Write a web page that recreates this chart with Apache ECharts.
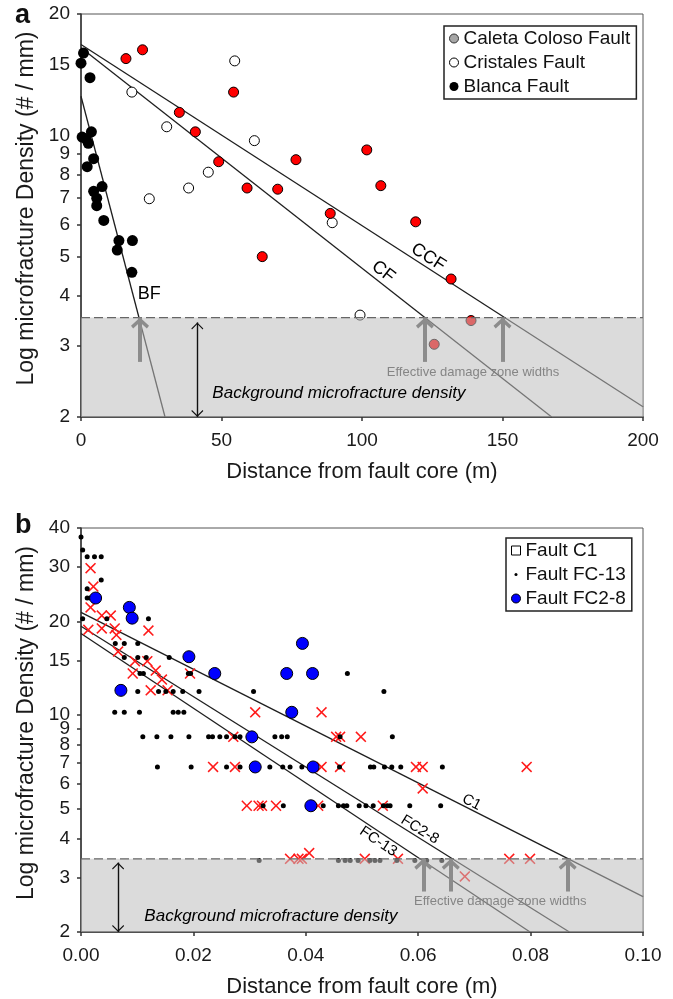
<!DOCTYPE html>
<html>
<head>
<meta charset="utf-8">
<script src="https://cdn.jsdelivr.net/npm/echarts@6/dist/echarts.min.js"></script>
<style>
  html, body { margin: 0; padding: 0; background: #fff; }
  #main { width: 673px; height: 999px; }
</style>
</head>
<body>
<div id="main"></div>
<script>
// ---- panel a: Caleta Coloso / Cristales / Blanca faults (distance in m) ----
const ccfX = [16.0, 21.9, 35.0, 40.7, 54.3, 49.0, 59.1, 70.0, 76.5, 88.7, 101.7, 106.7, 119.1, 64.5, 131.7, 138.8, 125.7];
const ccfY = [15.5, 16.3, 11.4, 10.2, 12.8, 8.6, 7.4, 7.35, 8.7, 6.4, 9.2, 7.5, 6.1, 5.0, 4.4, 3.47, 3.03];
const cfX = [18.1, 30.5, 24.3, 38.3, 45.3, 54.7, 61.7, 89.4, 99.3];
const cfY = [12.8, 10.5, 6.96, 7.4, 8.1, 15.3, 9.7, 6.07, 3.58];
const bfX = [0, 0.9, 3.2, 0.4, 1.8, 2.6, 3.7, 2.2, 4.5, 4.5, 5.6, 5.6, 7.5, 8.1, 13.5, 18.3, 12.9, 18.1];
const bfY = [15.1, 16.0, 13.9, 9.9, 9.8, 9.55, 10.2, 8.36, 8.75, 7.26, 6.98, 6.69, 7.46, 6.15, 5.48, 5.48, 5.19, 4.57];
const ccfFit = [[0, 16.8], [200, 2.12]];
const cfFit = [[0, 16.5], [167.5, 2]];
const bfFit = [[0, 12.5], [29.9, 2]];
const bgA = 3.53;
const widthsA = [21, 122.4, 150];
const yTicksA = [2, 3, 4, 5, 6, 7, 8, 9, 10, 15, 20];

// ---- panel b: faults C1 / FC-13 / FC2-8 (distance in m) ----
const c1X = [0.0017, 0.0022, 0.0017, 0.0037, 0.0053, 0.0037, 0.0013, 0.0060, 0.0063, 0.0120, 0.0066, 0.0096,
  0.0092, 0.0118, 0.0133, 0.0144, 0.0194, 0.0124, 0.0154, 0.0310, 0.0428, 0.0271, 0.0454, 0.0461, 0.0498,
  0.0235, 0.0274, 0.0428, 0.0461, 0.0596, 0.0608, 0.0793, 0.0608, 0.0295, 0.0316, 0.0322, 0.0347, 0.0422,
  0.0537, 0.0372, 0.0387, 0.0393, 0.0406, 0.0505, 0.0564, 0.0762, 0.0799, 0.0683];
const c1Y = [29.7, 25.9, 22.2, 20.9, 20.9, 19.0, 18.8, 19.0, 18.1, 18.7, 16.0, 14.9,
  13.6, 14.9, 13.9, 13.0, 13.6, 12.0, 12.0, 10.2, 10.2, 8.5, 8.5, 8.5, 8.5,
  6.8, 6.8, 6.8, 6.8, 6.8, 6.8, 6.8, 5.8, 5.1, 5.1, 5.1, 5.1, 5.1,
  5.1, 3.44, 3.44, 3.44, 3.59, 3.44, 3.44, 3.44, 3.44, 3.02];
const fc13X = [0.0000, 0.0003, 0.0011, 0.0024, 0.0036, 0.0036, 0.0011, 0.0011, 0.0016,
  0.0003, 0.0046, 0.0120, 0.0061, 0.0077, 0.0101, 0.0077, 0.0101, 0.0116, 0.0157,
  0.0105, 0.0111, 0.0191, 0.0195, 0.0474,
  0.0101, 0.0138, 0.0151, 0.0164, 0.0181, 0.0210, 0.0307, 0.0539,
  0.0060, 0.0077, 0.0104, 0.0164, 0.0173, 0.0183,
  0.0110, 0.0135, 0.0160, 0.0192, 0.0227, 0.0234, 0.0247, 0.0259, 0.0274, 0.0283, 0.0345, 0.0357, 0.0367, 0.0461, 0.0554,
  0.0136, 0.0196, 0.0259, 0.0283, 0.0336, 0.0359, 0.0372, 0.0393, 0.0460, 0.0515, 0.0521, 0.0540, 0.0553, 0.0569, 0.0643,
  0.0324, 0.0360, 0.0410, 0.0431, 0.0458, 0.0467, 0.0473, 0.0495, 0.0507, 0.0520, 0.0538, 0.0545, 0.0550, 0.0585, 0.0640,
  0.0317, 0.0458, 0.0470, 0.0479, 0.0493, 0.0514, 0.0523, 0.0532, 0.0562, 0.0594, 0.0615, 0.0642];
const fc13Y = [37.4, 34.0, 32.3, 32.3, 32.3, 27.2, 25.5, 23.8, 23.8,
  20.4, 20.4, 20.4, 17.0, 17.0, 17.0, 15.3, 15.3, 15.3, 15.3,
  13.6, 13.6, 13.6, 13.6, 13.6,
  11.9, 11.9, 11.9, 11.9, 11.9, 11.9, 11.9, 11.9,
  10.2, 10.2, 10.2, 10.2, 10.2, 10.2,
  8.5, 8.5, 8.5, 8.5, 8.5, 8.5, 8.5, 8.5, 8.5, 8.5, 8.5, 8.5, 8.5, 8.5, 8.5,
  6.8, 6.8, 6.8, 6.8, 6.8, 6.8, 6.8, 6.8, 6.8, 6.8, 6.8, 6.8, 6.8, 6.8, 6.8,
  5.1, 5.1, 5.1, 5.1, 5.1, 5.1, 5.1, 5.1, 5.1, 5.1, 5.1, 5.1, 5.1, 5.1, 5.1,
  3.4, 3.4, 3.4, 3.4, 3.4, 3.4, 3.4, 3.4, 3.4, 3.4, 3.4, 3.4];
const fc28X = [0.0026, 0.0086, 0.0091, 0.0192, 0.0238, 0.0366, 0.0412, 0.0394, 0.0071, 0.0375, 0.0304, 0.0310, 0.0413, 0.0409];
const fc28Y = [23.8, 22.2, 20.5, 15.4, 13.6, 13.6, 13.6, 17.0, 12.0, 10.2, 8.5, 6.8, 6.8, 5.1];
const c1Fit = [[0, 21.4], [0.1, 2.6]];
const fc28Fit = [[0, 19.3], [0.0869, 2]];
const fc13Fit = [[0, 18.3], [0.0799, 2]];
const bgB = 3.44;
const widthsB = [0.0609, 0.0658, 0.0866];
const yTicksB = [2, 3, 4, 5, 6, 7, 8, 9, 10, 15, 20, 30, 40];

// text annotations, placed in data space
const notesA = [
  { t: 'CCF', x: 123.6, y: 4.98, rot: -33, size: 18 },
  { t: 'CF', x: 107.6, y: 4.59, rot: -38, size: 18 },
  { t: 'BF', x: 24.3, y: 4.04, size: 18 },
  { t: 'Effective damage zone widths', x: 139.5, y: 2.58, size: 13, color: '#858585' },
  { t: 'Background microfracture density', x: 91.8, y: 2.29, size: 17, italic: true }
];
const notesB = [
  { t: 'C1', x: 0.0695, y: 5.23, rot: -27, size: 15 },
  { t: 'FC2-8', x: 0.0603, y: 4.27, rot: -32, size: 15 },
  { t: 'FC-13', x: 0.0529, y: 3.91, rot: -34, size: 15 },
  { t: 'Effective damage zone widths', x: 0.0746, y: 2.51, size: 13, color: '#858585' },
  { t: 'Background microfracture density', x: 0.0338, y: 2.24, size: 17, italic: true }
];

const FONT = '"Liberation Sans", Arial, sans-serif';
const lg = Math.log10;
const pts = (xs, ys) => xs.map((x, i) => [x, lg(ys[i])]);

const xMark = 'path://M0,1L1,0L5,4L9,0L10,1L6,5L10,9L9,10L5,6L1,10L0,9L4,5Z';
const bigHead = 'path://M0,0L10,7.5L7.6,10L0,4.2L-7.6,10L-10,7.5Z';
const thinHead = 'path://M0,0L10,8.6L8.9,10L0,2.4L-8.9,10L-10,8.6Z';

function scatter(name, g, xs, ys, symbol, size, style, z) {
  return {
    name, type: 'scatter', xAxisIndex: g, yAxisIndex: g, z: z || 2,
    symbol, symbolSize: size, itemStyle: Object.assign({ opacity: 1 }, style),
    data: pts(xs, ys), silent: true
  };
}

function fitLine(g, fit) {
  return {
    type: 'line', xAxisIndex: g, yAxisIndex: g, z: 2, symbol: 'none', silent: true,
    lineStyle: { color: '#1e1e1e', width: 1.3 },
    data: fit.map(p => [p[0], lg(p[1])])
  };
}

// grey band, dashed level, effective damage zone arrows and background double arrow
function background(g, xMax, bg, widths, arrowBot, dblX) {
  return [
    {
      type: 'line', xAxisIndex: g, yAxisIndex: g, z: 5, data: [], silent: true,
      markArea: {
        z: 5, silent: true,
        itemStyle: { color: 'rgba(190,190,190,0.55)' },
        data: [[{ coord: [0, lg(2)] }, { coord: [xMax, lg(bg)] }]]
      }
    },
    {
      type: 'line', xAxisIndex: g, yAxisIndex: g, z: 6, symbol: 'none', silent: true,
      lineStyle: { color: '#666', width: 1.2, type: [9, 4] },
      data: [[0, lg(bg)], [xMax, lg(bg)]]
    },
    {
      type: 'line', xAxisIndex: g, yAxisIndex: g, z: 7, data: [], silent: true,
      markLine: {
        z: 7, silent: true, animation: false,
        symbol: ['none', bigHead], symbolSize: [18, 11], symbolOffset: [[0, 0], [0, 5.5]],
        lineStyle: { color: '#8c8c8c', width: 4, type: 'solid' },
        label: { show: false },
        data: widths.map(x => [{ coord: [x, lg(arrowBot)] }, { coord: [x, lg(bg)] }])
      }
    },
    {
      type: 'line', xAxisIndex: g, yAxisIndex: g, z: 7, data: [], silent: true,
      markLine: {
        z: 7, silent: true, animation: false,
        symbol: [thinHead, thinHead], symbolSize: [12, 7], symbolOffset: [[0, 3.5], [0, 3.5]],
        lineStyle: { color: '#111', width: 1.4, type: 'solid' },
        label: { show: false },
        data: [[{ coord: [dblX, lg(2)] }, { coord: [dblX, lg(bg) - 0.012] }]]
      }
    }
  ];
}

function xAxisCfg(g, max, interval, fmt) {
  return {
    type: 'value', gridIndex: g, min: 0, max, interval,
    name: 'Distance from fault core (m)', nameLocation: 'middle', nameGap: 44,
    nameTextStyle: { fontSize: 22, color: '#1a1a1a', fontFamily: FONT },
    axisLine: { onZero: false, lineStyle: { color: '#333', width: 1.5 } },
    axisTick: { length: 4, lineStyle: { color: '#333', width: 1.5 } },
    axisLabel: { fontSize: 19, color: '#1a1a1a', fontFamily: FONT, margin: 14, formatter: fmt },
    splitLine: { show: false }
  };
}

function yAxisCfg(g, lo, hi, ticks) {
  const tv = ticks.map(lg);
  return {
    type: 'value', gridIndex: g, min: lg(lo), max: lg(hi),
    name: 'Log microfracture Density (# / mm)', nameLocation: 'middle', nameGap: 42,
    nameTextStyle: { fontSize: 23, color: '#1a1a1a', fontFamily: FONT, padding: [0, 0, 0, 14] },
    axisLine: { show: true, onZero: false, lineStyle: { color: '#333', width: 1.5 } },
    axisTick: { show: true, length: 4, customValues: tv, lineStyle: { color: '#333', width: 1.5 } },
    axisLabel: {
      customValues: tv, fontSize: 19, color: '#1a1a1a', fontFamily: FONT, margin: 11,
      formatter: v => String(Math.round(Math.pow(10, v)))
    },
    splitLine: { show: false }
  };
}

const legendBase = {
  orient: 'vertical', itemWidth: 9, itemHeight: 9, itemGap: 5,
  padding: [3, 6, 3, 5], borderColor: '#222', borderWidth: 1.5, selectedMode: false,
  textStyle: { fontSize: 19, color: '#111', fontFamily: FONT }
};

const chart = echarts.init(document.getElementById('main'));
chart.setOption({
  animation: false,
  backgroundColor: '#fff',
  title: [
    { text: 'a', left: 15, top: 2, padding: 0, textStyle: { fontSize: 27, fontWeight: 'bold', color: '#111', fontFamily: FONT } },
    { text: 'b', left: 15, top: 512, padding: 0, textStyle: { fontSize: 27, fontWeight: 'bold', color: '#111', fontFamily: FONT } }
  ],
  grid: [
    { left: 81, top: 14, width: 562, height: 403, show: true, borderColor: '#555', borderWidth: 1, containLabel: false, outerBoundsMode: 'none' },
    { left: 81, top: 528, width: 562, height: 404, show: true, borderColor: '#555', borderWidth: 1, containLabel: false, outerBoundsMode: 'none' }
  ],
  legend: [
    Object.assign({}, legendBase, {
      left: 444, top: 26,
      data: [
        { name: 'Caleta Coloso Fault', icon: 'circle', itemStyle: { color: '#a6a6a6', borderColor: '#333', borderWidth: 1 } },
        { name: 'Cristales Fault', icon: 'circle', itemStyle: { color: '#fff', borderColor: '#000', borderWidth: 1 } },
        { name: 'Blanca Fault', icon: 'circle', itemStyle: { color: '#000', borderWidth: 0 } }
      ]
    }),
    Object.assign({}, legendBase, {
      left: 506, top: 538,
      data: [
        { name: 'Fault C1', icon: 'rect', itemStyle: { color: '#fff', borderColor: '#000', borderWidth: 1 } },
        { name: 'Fault FC-13', icon: 'path://M0,0M10,10M5,3.3A1.7,1.7,0,1,1,5,6.7A1.7,1.7,0,1,1,5,3.3Z', itemStyle: { color: '#000', borderWidth: 0 } },
        { name: 'Fault FC2-8', icon: 'circle', itemStyle: { color: '#0000ff', borderColor: '#000', borderWidth: 1 } }
      ]
    })
  ],
  xAxis: [
    xAxisCfg(0, 200, 50, v => String(v)),
    xAxisCfg(1, 0.1, 0.02, v => v.toFixed(2))
  ],
  yAxis: [
    yAxisCfg(0, 2, 20, yTicksA),
    yAxisCfg(1, 2, 40, yTicksB)
  ],
  series: [
    fitLine(0, ccfFit), fitLine(0, cfFit), fitLine(0, bfFit),
    scatter('Cristales Fault', 0, cfX, cfY, 'circle', 10, { color: '#fff', borderColor: '#000', borderWidth: 1 }, 3),
    scatter('Caleta Coloso Fault', 0, ccfX, ccfY, 'circle', 10, { color: '#ff0000', borderColor: '#000', borderWidth: 1 }, 3),
    scatter('Blanca Fault', 0, bfX, bfY, 'circle', 11, { color: '#000' }, 3),
    ...background(0, 200, bgA, widthsA, 2.74, 41.4),

    fitLine(1, c1Fit), fitLine(1, fc28Fit), fitLine(1, fc13Fit),
    scatter('Fault C1', 1, c1X, c1Y, xMark, 11, { color: '#ff1a1a' }, 3),
    scatter('Fault FC-13', 1, fc13X, fc13Y, 'circle', 5, { color: '#000' }, 3),
    scatter('Fault FC2-8', 1, fc28X, fc28Y, 'circle', 12, { color: '#0000ff', borderColor: '#000', borderWidth: 1 }, 4),
    ...background(1, 0.1, bgB, widthsB, 2.70, 0.0066)
  ]
});

// place the annotations through the grid's own scales
function noteGraphics(g, list) {
  return list.map(n => {
    const p = chart.convertToPixel({ gridIndex: g }, [n.x, lg(n.y)]);
    return {
      type: 'text', x: p[0], y: p[1], z: 100, silent: true,
      rotation: (n.rot || 0) * Math.PI / 180,
      style: {
        text: n.t, fill: n.color || '#000', align: 'center', verticalAlign: 'middle',
        font: (n.italic ? 'italic ' : '') + n.size + 'px ' + FONT
      }
    };
  });
}
chart.setOption({ graphic: [...noteGraphics(0, notesA), ...noteGraphics(1, notesB)] });
</script>
</body>
</html>
